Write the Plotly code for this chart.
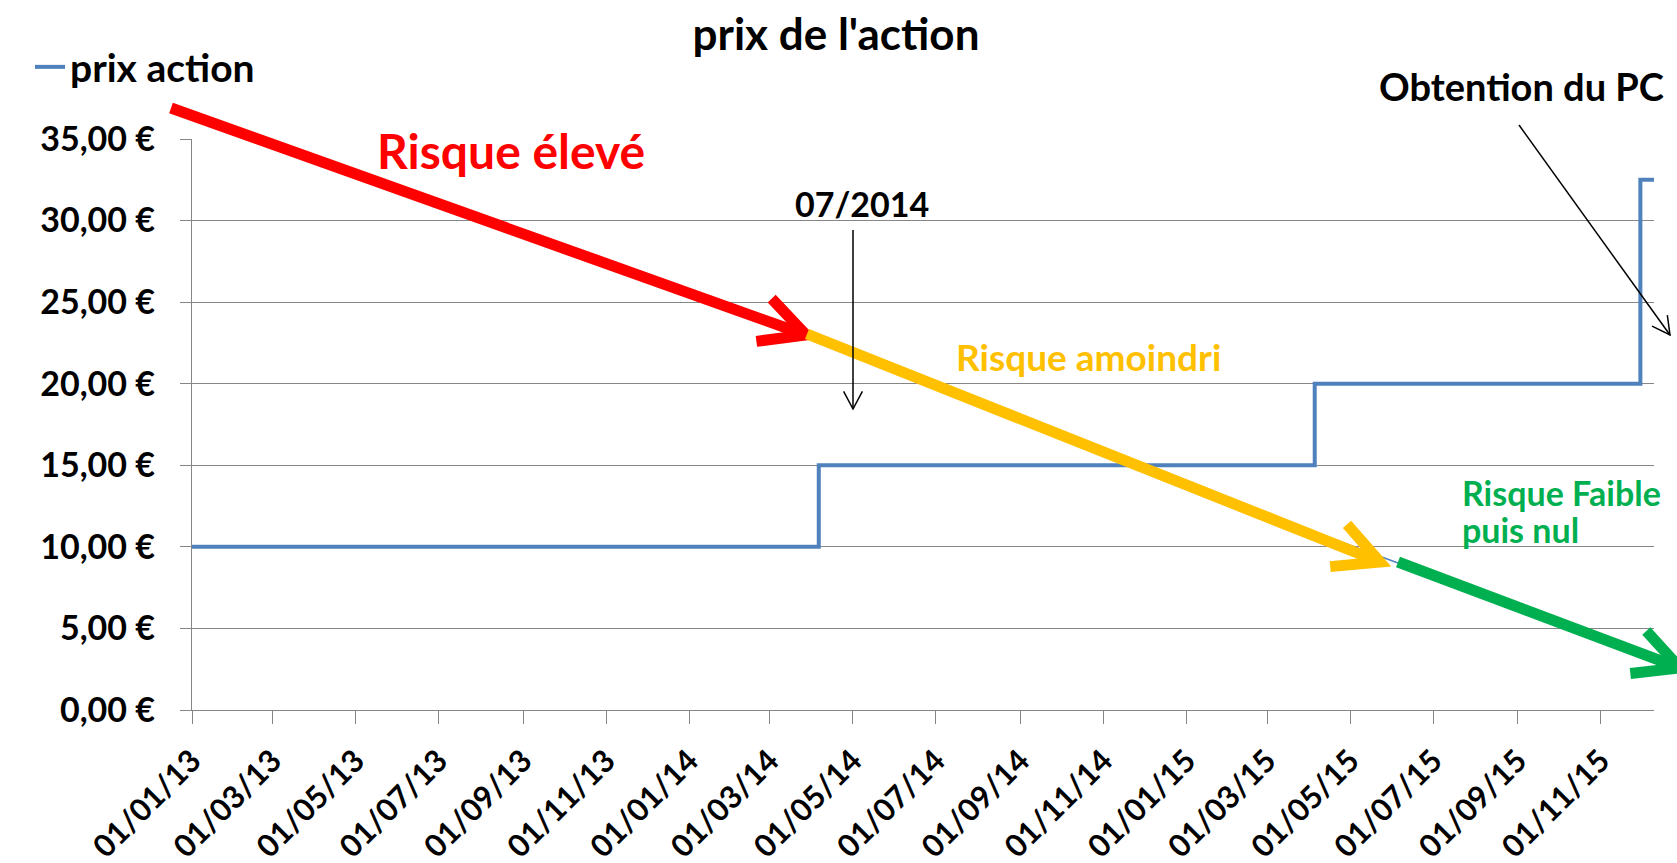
import math
import plotly.graph_objects as go

# ---- data ----
step_dates = ["2013-01-01", "2014-04-06", "2015-04-05", "2015-11-30", "2015-12-10"]
step_prices = [10, 15, 20, 32.5, 32.5]
series_name = "prix action"

tick_dates = ["2013-01-01", "2013-03-01", "2013-05-01", "2013-07-01", "2013-09-01", "2013-11-01",
              "2014-01-01", "2014-03-01", "2014-05-01", "2014-07-01", "2014-09-01", "2014-11-01",
              "2015-01-01", "2015-03-01", "2015-05-01", "2015-07-01", "2015-09-01", "2015-11-01"]
tick_labels = ["01/01/13", "01/03/13", "01/05/13", "01/07/13", "01/09/13", "01/11/13",
               "01/01/14", "01/03/14", "01/05/14", "01/07/14", "01/09/14", "01/11/14",
               "01/01/15", "01/03/15", "01/05/15", "01/07/15", "01/09/15", "01/11/15"]
y_ticks = [0, 5, 10, 15, 20, 25, 30, 35]
y_labels = [f"{v:.2f}".replace(".", ",") + " €" for v in y_ticks]

FONT = "Lato"
W, H = 1677, 863
L, R, T, B = 192, 23, 139, 153
PW, PH = W - L - R, H - T - B


def px(x):
    return (x - L) / PW


def py(y):
    return (H - B - y) / PH


def seg_path(points):
    return "M " + " L ".join(f"{px(x):.5f},{py(y):.5f}" for x, y in points)


def arrow(x0, y0, x1, y1, color, width, head_len, head_ang):
    ang = math.atan2(y0 - y1, x0 - x1)
    a = math.radians(head_ang)
    p1 = (x1 + head_len * math.cos(ang + a), y1 + head_len * math.sin(ang + a))
    p2 = (x1 + head_len * math.cos(ang - a), y1 + head_len * math.sin(ang - a))
    ln = dict(color=color, width=width)
    return [
        dict(type="path", xref="paper", yref="paper", path=seg_path([(x0, y0), (x1, y1)]), line=ln),
        dict(type="path", xref="paper", yref="paper", path=seg_path([p1, (x1, y1), p2]), line=ln),
    ]


fig = go.Figure()
fig.add_trace(go.Scatter(
    x=step_dates, y=step_prices, mode="lines", name=series_name,
    line=dict(color="#4F81BD", width=4, shape="hv"),
))

shapes = []
shapes.append(dict(type="path", xref="paper", yref="paper",
                   path=seg_path([(1290, 523), (1398, 563)]),
                   line=dict(color="#4F81BD", width=1.5)))
shapes += arrow(171, 108, 806, 335, "#FF0000", 11, 50, 27)
shapes += arrow(807, 334, 1380, 562, "#FFC000", 11, 50, 27)
shapes += arrow(1398, 562, 1680, 668, "#00B050", 11, 50, 27)
shapes += arrow(853, 230, 853, 409, "#000000", 1.5, 20, 28)
shapes += arrow(1519, 125, 1670, 335, "#000000", 1.5, 20, 28)


def note(text, x, y, size, color, xanchor="center", yanchor="middle", align="center"):
    return dict(text=text, x=px(x), y=py(y), xref="paper", yref="paper", showarrow=False,
                xanchor=xanchor, yanchor=yanchor, align=align, borderpad=0,
                font=dict(family=FONT, size=size, color=color, weight="bold"))


annotations = [
    note("Risque élevé", 511, 151, 48, "#FF0000"),
    note("Risque amoindri", 1088, 356, 37, "#FFC000"),
    note("Risque Faible", 1461, 492, 34, "#00B050", xanchor="left"),
    note("puis nul", 1461, 529, 34, "#00B050", xanchor="left"),
    note("07/2014", 862, 203, 34, "#000000"),
    note("Obtention du PC", 1521, 86, 38, "#000000"),
]

grid = "#868686"
fig.update_layout(
    width=W, height=H,
    margin=dict(l=L, r=R, t=T, b=B, autoexpand=False),
    paper_bgcolor="white", plot_bgcolor="white",
    font=dict(family=FONT, color="#000000"),
    title=dict(text="<b>prix de l'action</b>", x=836 / W, xanchor="center",
               y=1 - 35 / H, yanchor="middle", font=dict(family=FONT, size=44, color="#000000")),
    showlegend=True,
    legend=dict(x=px(30), xanchor="left", y=py(67), yanchor="middle",
                font=dict(family=FONT, size=39, color="#000000", weight="bold"),
                bgcolor="rgba(0,0,0,0)", itemwidth=30),
    xaxis=dict(type="date", range=["2013-01-01", "2015-12-10"],
               tickmode="array", tickvals=tick_dates, ticktext=tick_labels,
               tickangle=-45, ticks="outside", ticklen=13, tickcolor=grid, tickwidth=1.3,
               showline=True, linecolor=grid, linewidth=1.3, showgrid=False, zeroline=False,
               ticklabelstandoff=6,
               tickfont=dict(family=FONT, size=31, color="#000000", weight="bold")),
    yaxis=dict(range=[0, 35], tickmode="array", tickvals=y_ticks, ticktext=y_labels,
               ticks="outside", ticklen=11, tickcolor=grid, tickwidth=1.3,
               showline=True, linecolor=grid, linewidth=1.3,
               showgrid=True, gridcolor=grid, gridwidth=1.3, zeroline=False,
               ticklabelstandoff=18,
               tickfont=dict(family=FONT, size=34, color="#000000", weight="bold")),
    shapes=shapes,
    annotations=annotations,
)

fig.write_html("out.html", config={"displayModeBar": False},
               post_script="document.body.style.margin='0';document.body.style.overflow='hidden';")
